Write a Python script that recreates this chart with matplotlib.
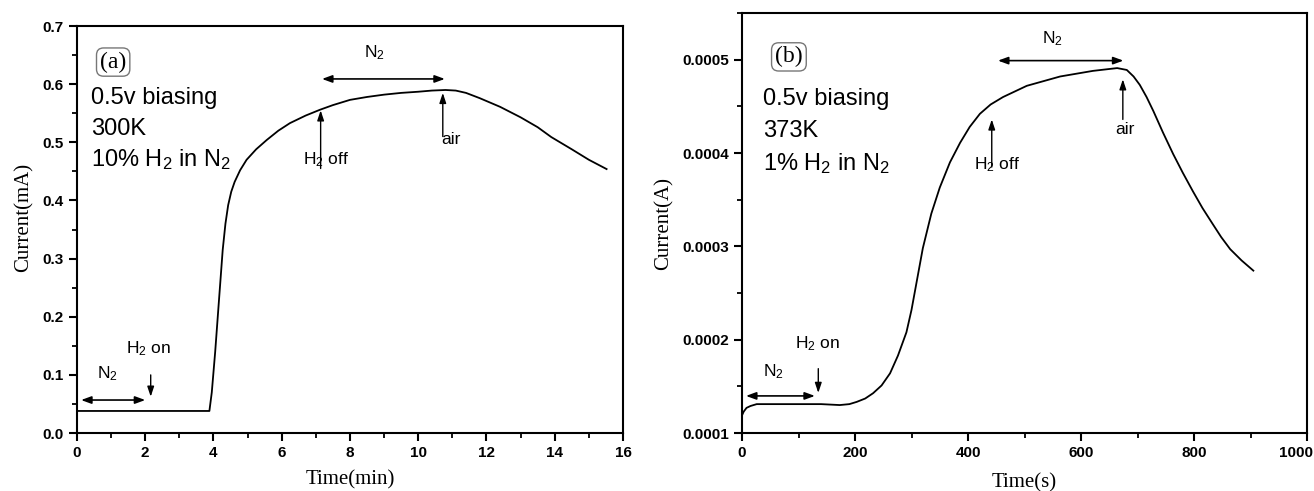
import matplotlib
matplotlib.use('Agg')
import matplotlib.pyplot as plt
import matplotlib.transforms as mtransforms
from matplotlib.ticker import MultipleLocator

plt.rcParams['mathtext.default'] = 'regular'

# (a) 300 K, 10% H2 in N2 -- time in min, current in mA
t_a = [0.0, 1.0, 2.0, 3.0, 3.88, 3.95, 4.05, 4.15, 4.27, 4.35, 4.43, 4.52, 4.62,
       4.78, 4.97, 5.25, 5.56, 5.9, 6.24, 6.7, 7.12, 7.5, 8.0, 8.5, 9.0, 9.5,
       10.0, 10.4, 10.8, 11.1, 11.4, 11.8, 12.4, 13.0, 13.5, 13.9, 14.5, 15.0,
       15.52]
i_a = [0.038, 0.038, 0.038, 0.038, 0.038, 0.07, 0.14, 0.22, 0.315, 0.36, 0.392,
       0.415, 0.432, 0.452, 0.47, 0.488, 0.504, 0.52, 0.533, 0.546, 0.556, 0.564,
       0.573, 0.578, 0.582, 0.585, 0.587, 0.589, 0.590, 0.589, 0.585, 0.576,
       0.561, 0.543, 0.526, 0.509, 0.488, 0.470, 0.454]

# (b) 373 K, 1% H2 in N2 -- time in s, current in A
t_b = [0, 3, 8, 15, 26, 60, 100, 140, 173, 190, 203, 218, 232, 247, 262, 276,
       291, 300, 310, 320, 335, 350, 368, 386, 403, 421, 440, 462, 504, 563,
       621, 664, 681, 693, 704, 716, 728, 745, 763, 780, 798, 815, 833, 848,
       864, 884, 905]
i_b = [1.19e-4, 1.23e-4, 1.27e-4, 1.29e-4, 1.31e-4, 1.31e-4, 1.31e-4, 1.31e-4,
       1.30e-4, 1.31e-4, 1.334e-4, 1.37e-4, 1.427e-4, 1.51e-4, 1.64e-4,
       1.83e-4, 2.08e-4, 2.32e-4, 2.65e-4, 2.98e-4, 3.35e-4, 3.63e-4, 3.90e-4,
       4.11e-4, 4.28e-4, 4.42e-4, 4.52e-4, 4.60e-4, 4.72e-4, 4.82e-4, 4.88e-4,
       4.91e-4, 4.89e-4, 4.82e-4, 4.73e-4, 4.60e-4, 4.45e-4, 4.22e-4, 3.99e-4,
       3.79e-4, 3.59e-4, 3.41e-4, 3.24e-4, 3.10e-4, 2.97e-4, 2.85e-4, 2.74e-4]

xticks_a = [0, 2, 4, 6, 8, 10, 12, 14, 16]
yticks_a = [0.0, 0.1, 0.2, 0.3, 0.4, 0.5, 0.6, 0.7]
xticks_b = [0, 200, 400, 600, 800, 1000]
yticks_b = [0.0001, 0.0002, 0.0003, 0.0004, 0.0005]

SANS = 'Liberation Sans'
SERIF = 'Liberation Serif'

fig = plt.figure(figsize=(13.14, 4.91), dpi=100)
ax1 = fig.add_axes([0.0586, 0.118, 0.4155, 0.829])
ax2 = fig.add_axes([0.5647, 0.118, 0.430, 0.8555])


def style_axes(ax, xt, yt, xminor, yminor, xfmt, yfmt):
    ax.set_xticks(xt)
    ax.set_yticks(yt)
    ax.xaxis.set_minor_locator(MultipleLocator(xminor))
    ax.yaxis.set_minor_locator(MultipleLocator(yminor))
    ax.set_xticklabels([xfmt.format(v) for v in xt])
    ax.set_yticklabels([yfmt.format(v) for v in yt])
    ax.tick_params(which='major', direction='out', length=6, width=1.5,
                   top=False, right=False)
    ax.tick_params(which='minor', direction='out', length=3.5, width=1.3,
                   top=False, right=False)
    for lab in ax.get_xticklabels() + ax.get_yticklabels():
        lab.set_fontfamily(SANS)
        lab.set_fontweight('bold')
        lab.set_fontsize(11)
    for sp in ax.spines.values():
        sp.set_linewidth(1.5)


def darrow(ax, x0, x1, y):
    ax.annotate('', xy=(x1, y), xytext=(x0, y),
                arrowprops=dict(arrowstyle='<|-|>,head_length=0.6,head_width=0.22',
                                color='black', lw=1.2, shrinkA=0, shrinkB=0))


def varrow(ax, x, y_tail, y_tip):
    ax.annotate('', xy=(x, y_tip), xytext=(x, y_tail),
                arrowprops=dict(arrowstyle='-|>,head_length=0.6,head_width=0.2',
                                color='black', lw=1.0, shrinkA=0, shrinkB=0))


def note(ax, x, y, s, **kw):
    ax.text(x, y, s, fontfamily=SANS, fontsize=12.5, ha='center', va='center', **kw)


# ---- panel (a)
ax1.plot(t_a, i_a, color='black', lw=1.3)
ax1.set_xlim(0, 16)
ax1.set_ylim(0, 0.7)
style_axes(ax1, xticks_a, yticks_a, 1, 0.05, '{:g}', '{:.1f}')
ax1.set_xlabel('Time(min)', fontfamily=SERIF, fontsize=15, labelpad=7)
ax1.set_ylabel('Current(mA)', fontfamily=SERIF, fontsize=15)
ax1.yaxis.set_label_coords(-0.08, 0.53)

ax1.text(1.06, 0.638, '(a)', fontfamily=SERIF, fontsize=17, ha='center', va='center',
         bbox=dict(boxstyle='round,pad=0.15,rounding_size=0.3', fc='white', ec='#777777', lw=1))
for k, s in enumerate(['0.5v biasing', '300K', r'10% H$_2$ in N$_2$']):
    ax1.text(0.4, 0.576 - 0.053 * k, s, fontfamily=SANS, fontsize=17, va='center')

darrow(ax1, 7.18, 10.78, 0.609)
note(ax1, 8.73, 0.655, r'N$_2$')
varrow(ax1, 10.72, 0.51, 0.585)
note(ax1, 10.95, 0.505, 'air')
varrow(ax1, 7.14, 0.455, 0.555)
note(ax1, 7.3, 0.47, r'H$_2$ off')

darrow(ax1, 0.12, 2.0, 0.0568)
note(ax1, 0.9, 0.103, r'N$_2$')
varrow(ax1, 2.16, 0.1, 0.0625)
note(ax1, 2.09, 0.146, r'H$_2$ on')

# ---- panel (b)
ax2.plot(t_b, i_b, color='black', lw=1.3)
ax2.set_xlim(0, 1000)
ax2.set_ylim(0.0001, 0.00055)
style_axes(ax2, xticks_b, yticks_b, 100, 0.00005, '{:g}', '{:.4f}')
ax2.set_xlabel('Time(s)', fontfamily=SERIF, fontsize=15, labelpad=9)
ax2.set_ylabel('Current(A)', fontfamily=SERIF, fontsize=15, labelpad=6)

# last x label sits a little left of its tick so it stays on the canvas
last = ax2.get_xticklabels()[-1]
last.set_transform(last.get_transform() +
                   mtransforms.ScaledTranslation(-11 / 100, 0, fig.dpi_scale_trans))

ax2.text(83, 0.000503, '(b)', fontfamily=SERIF, fontsize=17, ha='center', va='center',
         bbox=dict(boxstyle='round,pad=0.15,rounding_size=0.3', fc='white', ec='#777777', lw=1))
for k, s in enumerate(['0.5v biasing', '373K', r'1% H$_2$ in N$_2$']):
    ax2.text(37, 0.000458 - 0.0000345 * k, s, fontfamily=SANS, fontsize=17, va='center')

darrow(ax2, 453, 675, 0.000499)
note(ax2, 549, 0.000523, r'N$_2$')
varrow(ax2, 674, 0.000436, 0.000479)
note(ax2, 678, 0.000425, 'air')
varrow(ax2, 442, 0.000385, 0.000436)
note(ax2, 452, 0.000388, r'H$_2$ off')

darrow(ax2, 7, 129, 0.0001398)
note(ax2, 55, 0.000166, r'N$_2$')
varrow(ax2, 135, 0.000169, 0.000143)
note(ax2, 133, 0.000196, r'H$_2$ on')

fig.savefig('out.png', dpi=100)
